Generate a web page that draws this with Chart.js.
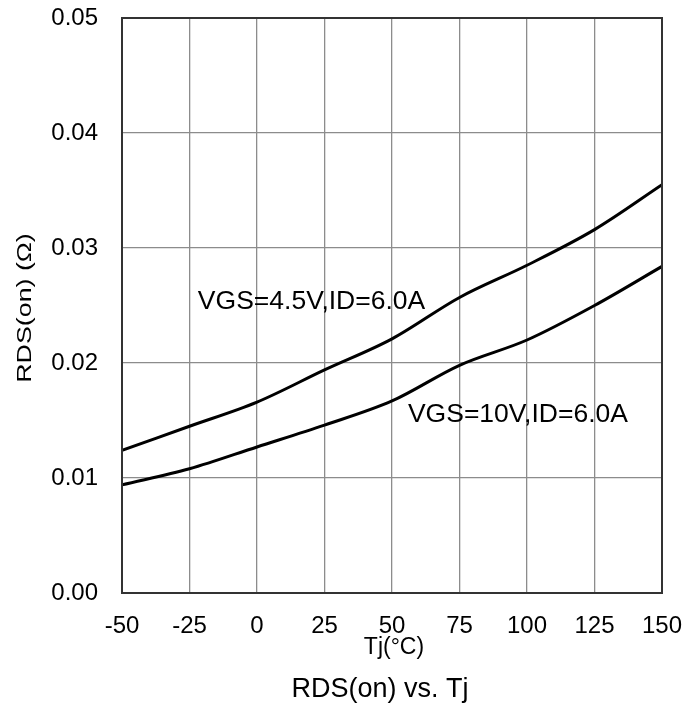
<!DOCTYPE html>
<html>
<head>
<meta charset="utf-8">
<script src="https://cdn.jsdelivr.net/npm/chart.js@4"></script>
<style>
  html, body { margin: 0; padding: 0; background: #fff; }
  #wrap { width: 698px; height: 713px; }
</style>
</head>
<body>
<div id="wrap"><canvas id="rdsChart" width="698" height="713"></canvas></div>
<script>
// Junction temperature (°C)
const tempC = [-50, -25, 0, 25, 50, 75, 100, 125, 150];
// RDS(on) in ohms
const rdsVgs45 = [0.0124, 0.0145, 0.0166, 0.0194, 0.0221, 0.0257, 0.0285, 0.0316, 0.0355];
const rdsVgs10 = [0.0094, 0.0108, 0.0127, 0.0146, 0.0167, 0.0198, 0.0220, 0.0250, 0.0284];
const curveLabels = ['VGS=4.5V,ID=6.0A', 'VGS=10V,ID=6.0A'];
// where the curve labels sit (data coords: left edge, middle)
const labelX = [-21.9, 55.9];
const labelY = [0.02535, 0.01552];

const FONT = '"Liberation Sans", Arial, sans-serif';

// frame, axis titles, curve labels and caption
const extras = {
    id: 'extras',
    afterDraw(chart) {
        const ctx = chart.ctx;
        const a = chart.chartArea;
        const xs = chart.scales.x;
        const ys = chart.scales.y;
        ctx.save();
        ctx.strokeStyle = '#333';
        ctx.lineWidth = 2;
        ctx.strokeRect(a.left, a.top, a.right - a.left, a.bottom - a.top);

        ctx.fillStyle = '#000';
        ctx.textBaseline = 'middle';
        ctx.font = '26.5px ' + FONT;
        ctx.textAlign = 'left';
        for (let i = 0; i < curveLabels.length; i++) {
            ctx.fillText(curveLabels[i], xs.getPixelForValue(labelX[i]), ys.getPixelForValue(labelY[i]));
        }

        ctx.textAlign = 'center';
        ctx.font = '23px ' + FONT;
        ctx.fillText('Tj(°C)', 394, 648);
        ctx.font = '27px ' + FONT;
        ctx.fillText('RDS(on) vs. Tj', 380, 690);

        // y title is stretched along its length in the original
        ctx.translate(25, 308);
        ctx.rotate(-Math.PI / 2);
        ctx.scale(1.34, 1);
        ctx.font = '20px ' + FONT;
        ctx.fillText('RDS(on) (Ω)', 0, 0);
        ctx.restore();
    }
};

const ctx = document.getElementById('rdsChart').getContext('2d');
new Chart(ctx, {
    type: 'line',
    data: {
        datasets: [{
            label: curveLabels[0],
            data: tempC.map((t, i) => ({ x: t, y: rdsVgs45[i] })),
            borderColor: '#000',
            borderWidth: 3,
            pointRadius: 0,
            cubicInterpolationMode: 'monotone',
        }, {
            label: curveLabels[1],
            data: tempC.map((t, i) => ({ x: t, y: rdsVgs10[i] })),
            borderColor: '#000',
            borderWidth: 3,
            pointRadius: 0,
            cubicInterpolationMode: 'monotone',
        }],
    },
    options: {
        responsive: false,
        animation: false,
        devicePixelRatio: 1,
        layout: { padding: { top: 18, right: 36, left: 0, bottom: 0 } },
        plugins: {
            legend: { display: false },
            tooltip: { enabled: false },
        },
        scales: {
            x: {
                type: 'linear',
                min: -50,
                max: 150,
                afterFit: (s) => {
                    s.height = 120;
                    s.paddingLeft = 0;
                    s.paddingRight = 0;
                },
                ticks: {
                    stepSize: 25,
                    maxRotation: 0,
                    padding: 19,
                    color: '#000',
                    font: { family: FONT, size: 24 },
                },
                grid: { color: '#8c8c8c', lineWidth: 1.3, drawTicks: false },
                border: { display: false },
            },
            y: {
                min: 0,
                max: 0.05,
                afterFit: (s) => {
                    s.width = 122;
                    s.paddingTop = 0;
                    s.paddingBottom = 0;
                },
                ticks: {
                    stepSize: 0.01,
                    padding: 24,
                    color: '#000',
                    font: { family: FONT, size: 24 },
                    callback: (v) => v.toFixed(2),
                },
                grid: { color: '#8c8c8c', lineWidth: 1.3, drawTicks: false },
                border: { display: false },
            },
        },
    },
    plugins: [extras],
});
</script>
</body>
</html>
